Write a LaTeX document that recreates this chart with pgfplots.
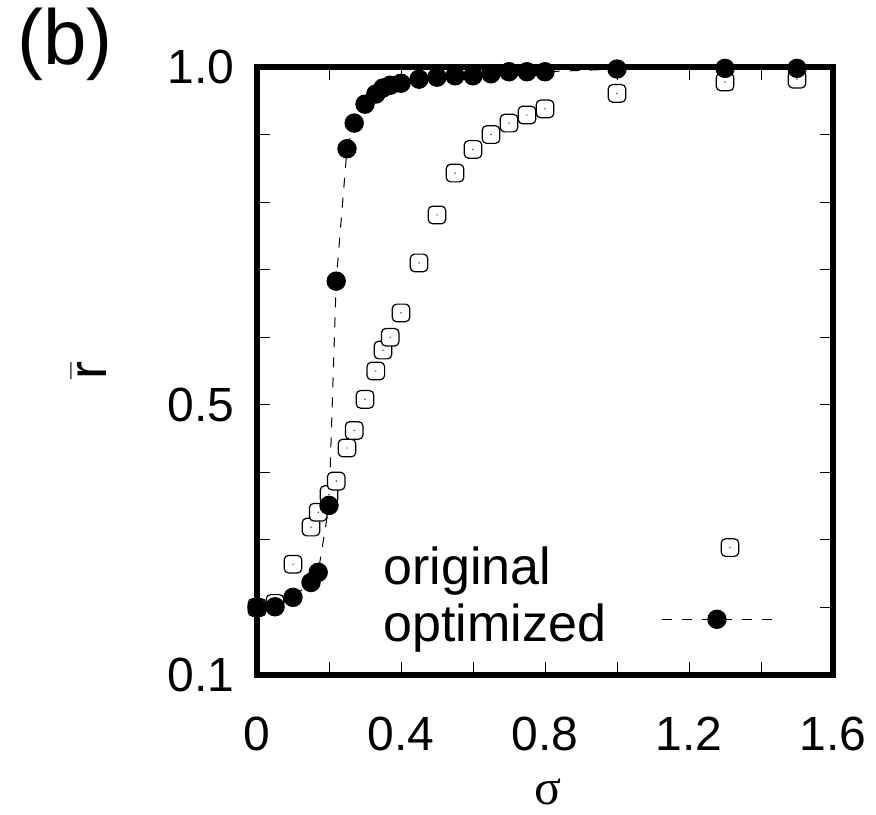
\documentclass[border=0pt]{standalone}
\usepackage{fontspec}
\setmainfont{Liberation Sans}
\newfontfamily\greekserif{Liberation Serif}
\usepackage{pgfplots}
\pgfplotsset{compat=1.18}

% open rounded square with a dot in the middle
\pgfdeclareplotmark{rsq}{%
  \pgfscope
  \pgfsetcornersarced{\pgfpoint{0.5\pgfplotmarksize}{0.5\pgfplotmarksize}}%
  \pgfpathmoveto{\pgfqpoint{0pt}{-\pgfplotmarksize}}%
  \pgfpathlineto{\pgfqpoint{\pgfplotmarksize}{-\pgfplotmarksize}}%
  \pgfpathlineto{\pgfqpoint{\pgfplotmarksize}{\pgfplotmarksize}}%
  \pgfpathlineto{\pgfqpoint{-\pgfplotmarksize}{\pgfplotmarksize}}%
  \pgfpathlineto{\pgfqpoint{-\pgfplotmarksize}{-\pgfplotmarksize}}%
  \pgfpathclose
  \pgfusepath{fill,stroke}%
  \pgfsetcornersarced{\pgfpointorigin}%
  \pgfsetfillcolor{black}%
  \pgfpathcircle{\pgfpointorigin}{0.35pt}%
  \pgfusepathqfill
  \endpgfscope
}

\begin{document}
\begin{tikzpicture}
\useasboundingbox (-128.5pt,-69.5pt) rectangle (309.5pt,337.5pt);
\begin{axis}[
  scale only axis, width=288pt, height=304pt,
  xmin=0, xmax=1.6, ymin=0.1, ymax=1.0,
  clip=false,
  axis line style={line width=3pt},
  tick style={line width=0.5pt, black},
  major tick length=6.5pt,
  xtick={0,0.2,0.4,0.6,0.8,1.0,1.2,1.4,1.6},
  xticklabels={0,,0.4,,0.8,,1.2,,1.6},
  ytick={0.1,0.2,0.3,0.4,0.5,0.6,0.7,0.8,0.9,1.0},
  yticklabels={0.1,,,,0.5,,,,,1.0},
  /pgf/number format/assume math mode=true,
  ticklabel style={font=\fontsize{24}{28}\selectfont, inner sep=0pt},
  xticklabel style={anchor=north, yshift=-21pt},
  yticklabel style={anchor=east, xshift=-11pt},
  legend plot pos=right,
  legend cell align=left,
  legend style={draw=none, fill=none, inner sep=0pt,
    at={(63pt,15pt)}, anchor=south west,
    font=\fontsize{26}{31}\selectfont,
    nodes={inner sep=0pt}, row sep=8pt, column sep=28pt},
]
\addplot[only marks, mark=rsq, mark size=4.4pt,
  mark options={line width=0.6pt, draw=black, fill=white},
  legend image code/.code={\draw[overlay,mark repeat=2,mark phase=2] plot coordinates {(7pt,10pt) (34pt,10pt) (61pt,10pt)};}]
coordinates {
  (0.00,0.200) (0.05,0.206) (0.10,0.264) (0.15,0.319) (0.17,0.341)
  (0.20,0.367) (0.22,0.387) (0.25,0.436) (0.27,0.462) (0.30,0.508)
  (0.33,0.550) (0.35,0.581) (0.37,0.600) (0.40,0.636) (0.45,0.710)
  (0.50,0.781) (0.55,0.843) (0.60,0.878) (0.65,0.900) (0.70,0.917)
  (0.75,0.929) (0.80,0.938) (1.00,0.961) (1.30,0.978) (1.50,0.982)
};
\addlegendentry{original}
\addplot[black, line width=0.5pt, dash pattern=on 5pt off 5pt,
  mark=*, mark size=4.6pt, mark options={solid, fill=black},
  legend image code/.code={\draw[overlay,mark repeat=2,mark phase=2] plot coordinates {(0pt,2.5pt) (27.5pt,2.5pt) (55pt,2.5pt)};}]
coordinates {
  (0.00,0.200) (0.05,0.201) (0.10,0.215) (0.15,0.237) (0.17,0.252)
  (0.20,0.351) (0.22,0.683) (0.25,0.879) (0.27,0.917) (0.30,0.945)
  (0.33,0.960) (0.35,0.969) (0.37,0.973) (0.40,0.976) (0.45,0.982)
  (0.50,0.985) (0.55,0.987) (0.60,0.987) (0.65,0.990) (0.70,0.993)
  (0.75,0.993) (0.80,0.993) (1.00,0.997) (1.30,0.998) (1.50,0.998)
};
\addlegendentry{optimized}
\end{axis}
\node[anchor=base west, font=\fontsize{39}{44}\selectfont, inner sep=0pt] at (-120pt,305pt) {(b)};
\node[rotate=90, font=\fontsize{27}{32}\selectfont, inner sep=0pt] at (-84pt,152pt) {$\bar{\mbox{r}}$};
\node[font=\fontsize{25}{30}\selectfont\greekserif, inner sep=0pt] at (145.5pt,-58.5pt) {σ};
\end{tikzpicture}
\end{document}
